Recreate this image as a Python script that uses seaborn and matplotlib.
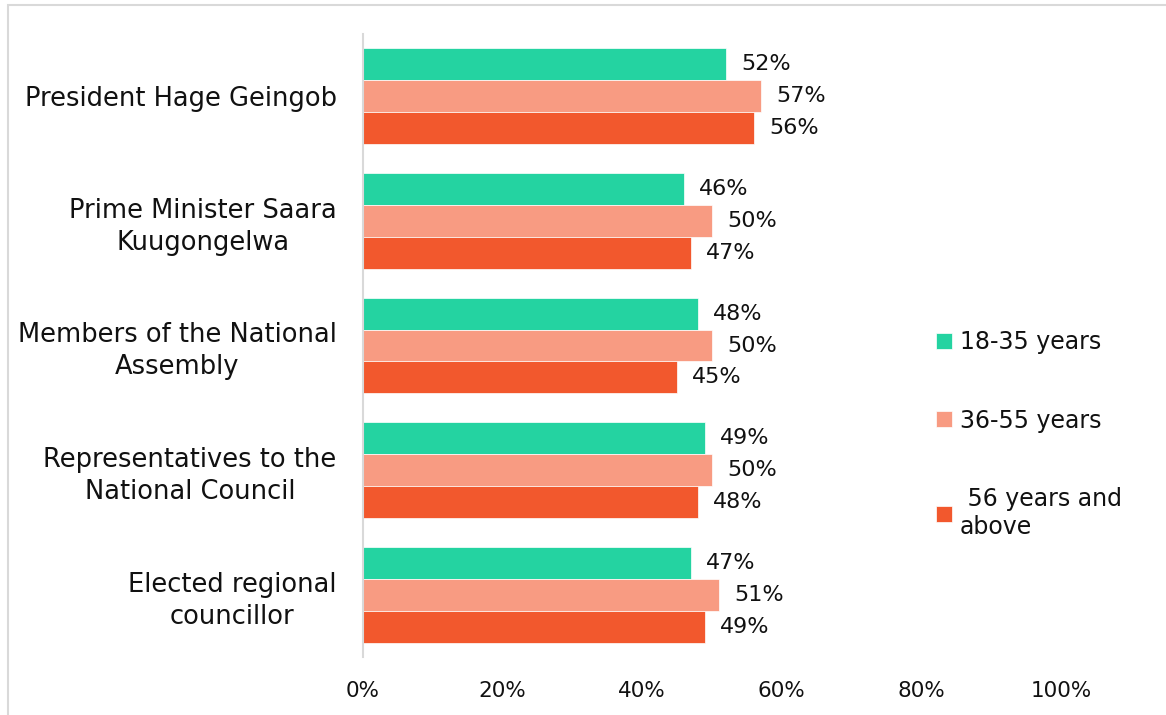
import numpy as np
import pandas as pd
import matplotlib
matplotlib.use("Agg")
import matplotlib.pyplot as plt
import seaborn as sns
from matplotlib.patches import Rectangle

# %%
officials = ["President Hage Geingob",
             "Prime Minister Saara\nKuugongelwa",
             "Members of the National\nAssembly",
             "Representatives to the\nNational Council",
             "Elected regional\ncouncillor"]
age_groups = ["18-35 years", "36-55 years", " 56 years and\nabove"]
young = [52, 46, 48, 49, 47]
middle = [57, 50, 50, 50, 51]
older = [56, 47, 45, 48, 49]
colors = ["#24D3A1", "#F89B82", "#F2582D"]

df = pd.DataFrame({"official": officials * 3,
                   "age": np.repeat(age_groups, len(officials)),
                   "pct": np.array(young + middle + older) / 100})

# %%
sns.set_style("white")
plt.rcParams["font.family"] = ["DejaVu Sans"]

fig = plt.figure(figsize=(11.66, 7.15), dpi=100)
ax = fig.add_axes([363/1166, 1 - 657/715, (1061 - 363)/1166, (657 - 34)/715])

sns.barplot(data=df, y="official", x="pct", hue="age", orient="h",
            palette=colors, saturation=1, width=0.77, ax=ax, legend=True,
            edgecolor="white", linewidth=0.5)

for cont in ax.containers:
    ax.bar_label(cont, labels=[f"{v*100:.0f}%" for v in cont.datavalues],
                 padding=11, fontsize=16, color="#111111")

ax.set_xlim(0, 1)
ax.set_ylim(4.5, -0.5)
ax.set_xticks([0, 0.2, 0.4, 0.6, 0.8, 1.0])
ax.set_xticklabels(["0%", "20%", "40%", "60%", "80%", "100%"], fontsize=15.5)
ax.tick_params(axis="x", length=0, pad=17, colors="#111111")
ax.tick_params(axis="y", length=0, pad=19, labelsize=18.5, colors="#111111")
for lab in ax.get_yticklabels():
    lab.set_multialignment("center")
    lab.set_linespacing(1.3)
ax.set_xlabel("")
ax.set_ylabel("")
for s in ["top", "right", "bottom"]:
    ax.spines[s].set_visible(False)
ax.spines["left"].set_color("#d9d9d9")
ax.spines["left"].set_linewidth(1.5)

handles, labels = ax.get_legend_handles_labels()
ax.get_legend().remove()
leg = fig.legend(handles, labels, loc="upper left",
                 bbox_to_anchor=(915/1166, 1 - 309/715), frameon=False,
                 fontsize=17, handlelength=0.65, handleheight=0.65,
                 handletextpad=0.35, labelspacing=2.3)
for t in leg.get_texts():
    t.set_color("#111111")

# light frame around the chart
fig.patches.append(Rectangle((8/1166, -0.05), 1.1, 1 - 5/715 + 0.05,
                             transform=fig.transFigure, fill=False,
                             edgecolor="#d9d9d9", linewidth=1.5))

fig.savefig("out.png", dpi=100)
